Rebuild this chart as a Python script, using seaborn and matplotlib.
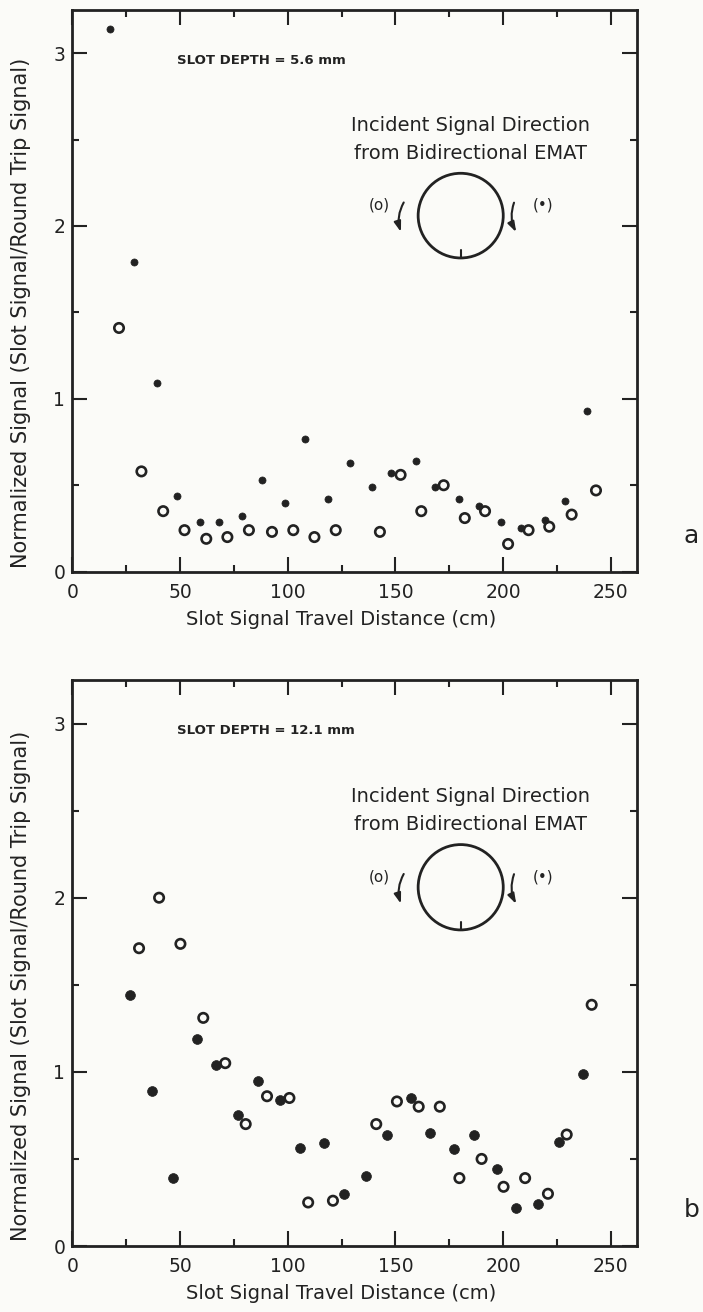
import numpy as np
import pandas as pd
import matplotlib
matplotlib.use('Agg')
import matplotlib.pyplot as plt
import seaborn as sns
from matplotlib.patches import Ellipse
from matplotlib.ticker import MultipleLocator

# panel a, slot depth 5.6 mm
a_closed_x = [17.5, 28.7, 39.2, 48.4, 59.2, 68.1, 78.8, 88.2, 98.9, 108.2, 118.8, 128.7,
              139.3, 148.1, 159.4, 168.2, 179.4, 188.8, 199.2, 208.4, 219.4, 228.7, 238.9]
a_closed_y = [3.14, 1.79, 1.09, 0.44, 0.29, 0.29, 0.32, 0.53, 0.40, 0.77, 0.42, 0.63,
              0.49, 0.57, 0.64, 0.49, 0.42, 0.38, 0.29, 0.25, 0.30, 0.41, 0.93]
a_open_x = [21.7, 32.1, 42.2, 52.1, 62.2, 72.0, 82.0, 92.7, 102.6, 112.4, 122.3,
            142.8, 152.4, 162.0, 172.4, 182.2, 191.6, 202.3, 211.8, 221.4, 231.8, 243.1]
a_open_y = [1.41, 0.58, 0.35, 0.24, 0.19, 0.20, 0.24, 0.23, 0.24, 0.20, 0.24,
            0.23, 0.56, 0.35, 0.50, 0.31, 0.35, 0.16, 0.24, 0.26, 0.33, 0.47]

# panel b, slot depth 12.1 mm
b_closed_x = [26.7, 36.9, 46.7, 57.9, 66.7, 76.7, 86.2, 96.6, 105.9, 116.9, 125.9,
              136.3, 145.9, 157.1, 165.9, 177.1, 186.7, 197.2, 205.8, 216.4, 225.8, 237.2]
b_closed_y = [1.44, 0.89, 0.39, 1.19, 1.04, 0.75, 0.95, 0.84, 0.565, 0.59, 0.30,
              0.40, 0.64, 0.85, 0.65, 0.555, 0.64, 0.445, 0.22, 0.24, 0.60, 0.99]
b_open_x = [31.0, 40.3, 50.2, 60.8, 71.0, 80.5, 90.4, 100.8, 109.5, 121.0,
            141.1, 150.7, 160.8, 170.6, 179.7, 190.0, 200.2, 210.2, 220.8, 229.5, 241.1]
b_open_y = [1.71, 2.00, 1.735, 1.31, 1.05, 0.70, 0.86, 0.85, 0.25, 0.26,
            0.70, 0.83, 0.80, 0.80, 0.39, 0.50, 0.34, 0.39, 0.30, 0.64, 1.385]

depth_labels = ['SLOT DEPTH = 5.6 mm', 'SLOT DEPTH = 12.1 mm']
panel_letters = ['a', 'b']
xlabel = 'Slot Signal Travel Distance (cm)'
ylabel = 'Normalized Signal (Slot Signal/Round Trip Signal)'

sns.set_style('ticks')
plt.rcParams['font.family'] = ['DejaVu Sans']
ink = '#222222'
bg = '#fbfbf8'

fig = plt.figure(figsize=(7.03, 13.12), dpi=100, facecolor=bg)
ax_a = fig.add_axes([0.1028, 0.5643, 0.8029, 0.4281])
ax_b = fig.add_axes([0.1028, 0.0503, 0.8029, 0.4314])

panels = [
    (ax_a, a_closed_x, a_closed_y, a_open_x, a_open_y, 26),
    (ax_b, b_closed_x, b_closed_y, b_open_x, b_open_y, 50),
]

for i, (ax, cx, cy, ox, oy, fs) in enumerate(panels):
    ax.set_facecolor(bg)
    closed = pd.DataFrame({'x': cx, 'y': cy})
    opened = pd.DataFrame({'x': ox, 'y': oy})
    sns.scatterplot(data=closed, x='x', y='y', ax=ax, color=ink, s=fs,
                    edgecolor=ink, linewidth=0.5, zorder=3)
    sns.scatterplot(data=opened, x='x', y='y', ax=ax, s=46, facecolor='none',
                    edgecolor=ink, linewidth=1.9, zorder=4)

    ax.set_xlim(0, 262)
    ax.set_ylim(0, 3.25)
    ax.xaxis.set_major_locator(MultipleLocator(50))
    ax.xaxis.set_minor_locator(MultipleLocator(25))
    ax.yaxis.set_major_locator(MultipleLocator(1))
    ax.yaxis.set_minor_locator(MultipleLocator(0.5))
    ax.tick_params(which='both', direction='in', top=True, right=True,
                   width=1.5, color=ink, labelsize=13.5, labelcolor=ink)
    ax.tick_params(axis='x', which='both', pad=8)
    ax.tick_params(axis='y', which='both', pad=5)
    ax.tick_params(which='major', length=11)
    ax.tick_params(which='minor', length=5)
    for sp in ax.spines.values():
        sp.set_linewidth(2)
        sp.set_color(ink)

    ax.set_xlabel(xlabel, fontsize=14, color=ink)
    ax.set_ylabel(ylabel, fontsize=15, color=ink)
    ax.xaxis.set_label_coords(0.476, -0.068)
    ax.yaxis.set_label_coords(-0.073, 0.46)

    ax.text(48.5, 2.96, depth_labels[i], fontsize=9.5, fontweight='bold',
            color=ink, va='center', ha='left')
    ax.text(185, 2.58, 'Incident Signal Direction', fontsize=14, color=ink,
            ha='center', va='center')
    ax.text(185, 2.42, 'from Bidirectional EMAT', fontsize=14, color=ink,
            ha='center', va='center')

    cy0 = 2.06
    ax.add_patch(Ellipse((180.3, cy0), width=39.5, height=0.49, fill=False,
                         lw=2, ec=ink, zorder=2))
    ax.plot([180.3, 180.3], [cy0 - 0.245, cy0 - 0.2], color=ink, lw=1.5)
    ax.annotate('', xy=(153.0, 1.95), xytext=(154.5, 2.15),
                arrowprops=dict(arrowstyle='-|>,head_length=0.6,head_width=0.2',
                                color=ink, lw=1.5,
                                connectionstyle='arc3,rad=0.25'))
    ax.annotate('', xy=(206.7, 1.95), xytext=(205.5, 2.15),
                arrowprops=dict(arrowstyle='-|>,head_length=0.6,head_width=0.2',
                                color=ink, lw=1.5,
                                connectionstyle='arc3,rad=0.25'))
    ax.text(142.5, 2.12, '(o)', fontsize=11, color=ink, ha='center', va='center')
    ax.text(218.5, 2.12, '(•)', fontsize=11, color=ink, ha='center', va='center')

    ax.text(1.097, 0.063, panel_letters[i], transform=ax.transAxes, fontsize=18,
            color=ink, ha='center', va='center')

fig.savefig('out.png', dpi=100, facecolor=bg)
